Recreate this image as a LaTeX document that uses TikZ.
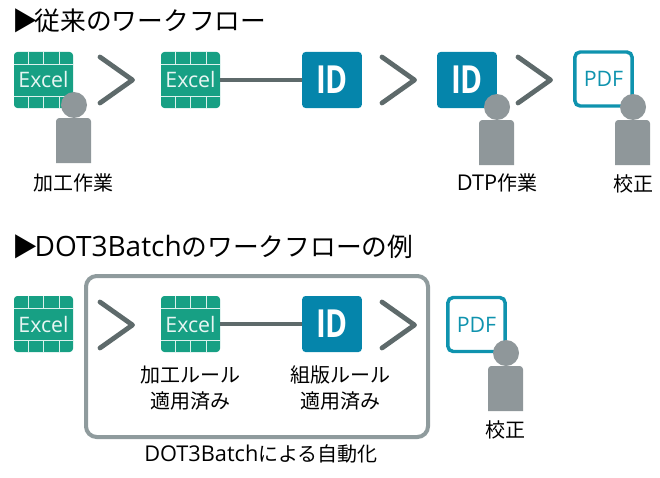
\documentclass[tikz,border=0pt]{standalone}
\usepackage{fontspec}
\setmainfont{Noto Sans CJK JP}
\newfontfamily\iconfont{Open Sans}
\newfontfamily\latinfont{Open Sans}
\definecolor{excelgreen}{HTML}{17A084}
\definecolor{idblue}{HTML}{0585AB}
\definecolor{pdfteal}{HTML}{0F93AE}
\definecolor{persongray}{HTML}{8F979A}
\definecolor{linegray}{HTML}{5E6A6B}
\definecolor{framegray}{HTML}{8F9B9D}
\tikzset{
  excelbox/.style={fill=excelgreen,rounded corners=2.5pt,minimum width=44.25pt,minimum height=42pt,inner sep=0pt,text=white!90!excelgreen,font=\iconfont\fontsize{16}{16}\selectfont},
  idbox/.style={fill=idblue,rounded corners=2.5pt,minimum width=44.75pt,minimum height=42pt,inner sep=0pt,text=white,font=\iconfont\bfseries\fontsize{29}{29}\selectfont},
  pdfbox/.style={draw=pdfteal,line width=2.6pt,fill=white,rounded corners=4pt,minimum width=43pt,minimum height=40.5pt,inner sep=0pt,text=pdfteal,font=\iconfont\fontsize{16}{16}\selectfont},
  head/.style={circle,fill=persongray,minimum size=19.5pt,inner sep=0pt},
  heading/.style={anchor=west,inner sep=0pt,font=\fontsize{19.3}{19.3}\selectfont},
  caption/.style={inner sep=0pt,align=center,font=\fontsize{15}{20}\selectfont},
  chevron/.style={draw=linegray,line width=3.6pt,line cap=round,line join=round},
  link/.style={draw=linegray,line width=3.6pt}
}
\newcommand{\idmark}{\scalebox{0.77}[1]{ID}}
\newcommand{\excelgrid}[1]{
  \draw[white!85!excelgreen,line width=0.7pt] ([yshift=-9.75pt]#1.north west) -- ([yshift=-9.75pt]#1.north east);
  \draw[white!85!excelgreen,line width=0.7pt] ([yshift=9pt]#1.south west) -- ([yshift=9pt]#1.south east);
  \foreach \d in {11.25,22.5,34.5} {
    \draw[white!85!excelgreen,line width=0.7pt] ([xshift=\d pt]#1.north west) -- ++(0,-9.75pt);
    \draw[white!85!excelgreen,line width=0.7pt] ([xshift=\d pt]#1.south west) -- ++(0,9pt);
  }
}
\newcommand{\person}[3]{
  \node[head] (#1) at (#2,#3) {};
  \fill[persongray] ({#2-18},{#3+58}) [rounded corners=2.5pt] -- ({#2-18},{#3+13}) -- ({#2+17},{#3+13}) [sharp corners] -- ({#2+17},{#3+58}) -- cycle;
}
\newcommand{\chev}[2]{
  \draw[chevron] ({#1},{#2-23}) -- ({#1+32.5},#2) -- ({#1},{#2+23});
}
\begin{document}
\begin{tikzpicture}[x=0.75pt,y=-0.75pt]
  \useasboundingbox (0,0) rectangle (660,478);
  % upper row
  \node[heading] (titleA) at (12,21) {▶\kern-2.5pt 従来のワークフロー};
  \node[excelbox] (excelA) at (43.5,80) {Excel};
  \node[excelbox] (excelB) at (190.5,80) {Excel};
  \node[idbox] (idA) at (332,80) {\idmark};
  \node[idbox] (idB) at (467,80) {\idmark};
  \node[pdfbox] (pdfA) at (603.5,79) {PDF};
  \excelgrid{excelA}
  \excelgrid{excelB}
  \draw[link] (excelB) -- (idA);
  \chev{100}{80}
  \chev{382}{80}
  \chev{518}{80}
  \person{workerA}{74}{105}
  \person{workerB}{497}{107}
  \person{workerC}{633}{107}
  \node[caption] (capA) at (73,183) {加工作業};
  \node[caption] (capB) at (497,183) {{\latinfont\fontsize{16.3}{20}\selectfont DTP}作業};
  \node[caption] (capC) at (633,184) {校正};
  % lower row
  \node[heading] (titleB) at (12,247) {▶\kern-2.5pt {\latinfont\fontsize{21}{20}\selectfont DOT3Batch}のワークフローの例};
  \draw[framegray,line width=3pt,rounded corners=8pt] (86,276) rectangle (428,437);
  \node[excelbox] (excelC) at (43.5,324) {Excel};
  \node[excelbox] (excelD) at (190.5,324) {Excel};
  \node[idbox] (idC) at (332,324) {\idmark};
  \node[pdfbox] (pdfB) at (476.5,324.5) {PDF};
  \excelgrid{excelC}
  \excelgrid{excelD}
  \draw[link] (excelD) -- (idC);
  \chev{100}{325}
  \chev{382}{325}
  \person{workerD}{506}{353}
  \node[caption] (capD) at (190,388) {加工ルール\\適用済み};
  \node[caption] (capE) at (340,388) {組版ルール\\適用済み};
  \node[caption] (capF) at (261,454) {{\latinfont\fontsize{16.3}{20}\selectfont DOT3Batch}による自動化};
  \node[caption] (capG) at (505,430) {校正};
\end{tikzpicture}
\end{document}
